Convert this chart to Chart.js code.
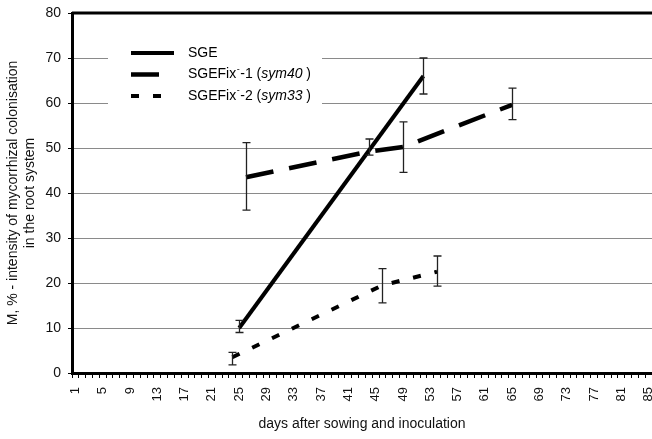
<!DOCTYPE html>
<html>
<head>
<meta charset="utf-8">
<script src="https://cdn.jsdelivr.net/npm/chart.js@4.4.1/dist/chart.umd.min.js"></script>
<style>
  html, body { margin: 0; padding: 0; background: #fff; }
  #chart { display: block; }
</style>
</head>
<body>
<canvas id="chart" width="652" height="439"></canvas>
<script>
const FONT = '"Liberation Sans", Arial, sans-serif';

// days after sowing, mean M % and error bar ends
const sgeDays = [25, 52];
const sgeValues = [10, 66];
const sgeLow = [9, 62];
const sgeHigh = [11.7, 70];

const fix1Days = [26, 44, 49, 65];
const fix1Values = [43.5, 49.2, 50.2, 59.6];
const fix1Low = [36.2, 48.4, 44.6, 56.3];
const fix1High = [51.2, 52, 55.8, 63.3];

const fix2Days = [24, 46, 54];
const fix2Values = [3.5, 19.5, 22.5];
const fix2Low = [1.8, 15.6, 19.3];
const fix2High = [4.6, 23.2, 26];

const xTickLabels = [1, 5, 9, 13, 17, 21, 25, 29, 33, 37, 41, 45, 49, 53, 57, 61, 65, 69, 73, 77, 81, 85];

const toPoints = (days, vals) => days.map((d, i) => ({ x: d, y: vals[i] }));

const errorSets = [
  { days: sgeDays, low: sgeLow, high: sgeHigh },
  { days: fix1Days, low: fix1Low, high: fix1High },
  { days: fix2Days, low: fix2Low, high: fix2High },
];

// legend rows: name, superscript minus, rest, italic strain, closing
const legendRows = [
  { parts: ["SGE"], sampleEnd: 174 },
  { parts: ["SGEFix", "-1 (", "sym40", " )"], sampleEnd: 160 },
  { parts: ["SGEFix", "-2 (", "sym33", " )"], sampleEnd: 164 },
];

const errorBarPlugin = {
  id: "errorBars",
  afterDatasetsDraw(chart) {
    const { ctx, scales } = chart;
    ctx.save();
    ctx.strokeStyle = "#222";
    ctx.lineWidth = 1.3;
    errorSets.forEach((set) => {
      set.days.forEach((d, i) => {
        const x = Math.round(scales.x.getPixelForValue(d)) + 0.5;
        const y1 = scales.y.getPixelForValue(set.low[i]);
        const y2 = scales.y.getPixelForValue(set.high[i]);
        ctx.beginPath();
        ctx.moveTo(x, y1);
        ctx.lineTo(x, y2);
        ctx.moveTo(x - 4, y1);
        ctx.lineTo(x + 4, y1);
        ctx.moveTo(x - 4, y2);
        ctx.lineTo(x + 4, y2);
        ctx.stroke();
      });
    });
    ctx.restore();
  },
};

const legendPlugin = {
  id: "plainLegend",
  beforeDatasetsDraw(chart) {
    const ctx = chart.ctx;
    ctx.save();
    ctx.fillStyle = "#fff";
    ctx.fillRect(108, 36, 214, 76);
    ctx.restore();
  },
  afterDraw(chart) {
    const { ctx, chartArea } = chart;
    ctx.save();
    // top border of the plot
    ctx.strokeStyle = "#000";
    ctx.lineWidth = 3;
    ctx.beginPath();
    ctx.moveTo(chartArea.left, chartArea.top);
    ctx.lineTo(chartArea.right, chartArea.top);
    ctx.stroke();

    const rowY = [53, 74.5, 96];
    chart.data.datasets.forEach((ds, i) => {
      const y = rowY[i];
      const row = legendRows[i];
      ctx.strokeStyle = "#000";
      ctx.lineWidth = ds.borderWidth;
      ctx.setLineDash(ds.borderDash || []);
      ctx.beginPath();
      ctx.moveTo(131, y);
      ctx.lineTo(row.sampleEnd, y);
      ctx.stroke();
      ctx.setLineDash([]);

      ctx.fillStyle = "#000";
      ctx.textBaseline = "middle";
      let x = 188;
      const parts = row.parts;
      ctx.font = "14px " + FONT;
      ctx.fillText(parts[0], x, y);
      x += ctx.measureText(parts[0]).width;
      if (parts.length > 1) {
        ctx.font = "9px " + FONT;
        ctx.fillText("-", x + 0.5, y - 5);
        x += ctx.measureText("-").width + 1;
        ctx.font = "14px " + FONT;
        ctx.fillText(parts[1], x, y);
        x += ctx.measureText(parts[1]).width;
        ctx.font = "italic 14px " + FONT;
        ctx.fillText(parts[2], x, y);
        x += ctx.measureText(parts[2]).width;
        ctx.font = "14px " + FONT;
        ctx.fillText(parts[3], x, y);
      }
    });
    ctx.restore();
  },
};

new Chart(document.getElementById("chart"), {
  type: "line",
  data: {
    datasets: [
      {
        label: "SGE",
        data: toPoints(sgeDays, sgeValues),
        borderColor: "#000",
        borderWidth: 4,
        pointRadius: 0,
      },
      {
        label: "SGEFix-1 (sym40)",
        data: toPoints(fix1Days, fix1Values),
        borderColor: "#000",
        borderWidth: 4.5,
        borderDash: [28, 16],
        pointRadius: 0,
      },
      {
        label: "SGEFix-2 (sym33)",
        data: toPoints(fix2Days, fix2Values),
        borderColor: "#000",
        borderWidth: 4,
        borderDash: [8, 14],
        pointRadius: 0,
      },
    ],
  },
  options: {
    responsive: false,
    animation: false,
    layout: { padding: { left: 0, right: 0, top: 13, bottom: 0 } },
    plugins: {
      legend: { display: false },
      tooltip: { enabled: false },
    },
    scales: {
      x: {
        type: "linear",
        min: 0.5,
        max: 85.5,
        afterFit(scale) {
          scale.height = 66;
          scale.paddingLeft = 0;
          scale.paddingRight = 0;
        },
        border: { display: true, color: "#000", width: 3 },
        grid: {
          drawOnChartArea: false,
          drawTicks: true,
          tickLength: 5,
          color: "#000",
          lineWidth: 1,
        },
        ticks: {
          // tick marks sit between days, labels are shifted to the day centre
          stepSize: 1,
          autoSkip: false,
          minRotation: 90,
          maxRotation: 90,
          padding: 9,
          labelOffset: 3.4,
          color: "#111",
          font: { family: FONT, size: 13 },
          callback: (v) => {
            const day = Math.round(v + 0.5);
            return v < 85.5 && xTickLabels.includes(day) ? String(day) : "";
          },
        },
        title: {
          display: true,
          text: "days after sowing and inoculation",
          color: "#111",
          font: { family: FONT, size: 14 },
          padding: { top: 4, bottom: 6 },
        },
      },
      y: {
        min: 0,
        max: 80,
        afterFit(scale) {
          scale.width = 72;
          scale.paddingTop = 0;
          scale.paddingBottom = 0;
        },
        border: { display: true, color: "#000", width: 3 },
        grid: {
          color: (c) => (c.tick.value === 0 || c.tick.value === 80 ? "rgba(0,0,0,0)" : "#8a8a8a"),
          tickColor: "#000",
          tickLength: 4,
          lineWidth: 1,
        },
        ticks: {
          stepSize: 10,
          padding: 7,
          color: "#111",
          font: { family: FONT, size: 14 },
        },
        title: {
          display: true,
          text: ["M, % - intensity of mycorrhizal colonisation", "in the root system"],
          color: "#111",
          font: { family: FONT, size: 14, lineHeight: 1.25 },
          padding: { top: 4, bottom: 0 },
        },
      },
    },
  },
  plugins: [legendPlugin, errorBarPlugin],
});
</script>
</body>
</html>
